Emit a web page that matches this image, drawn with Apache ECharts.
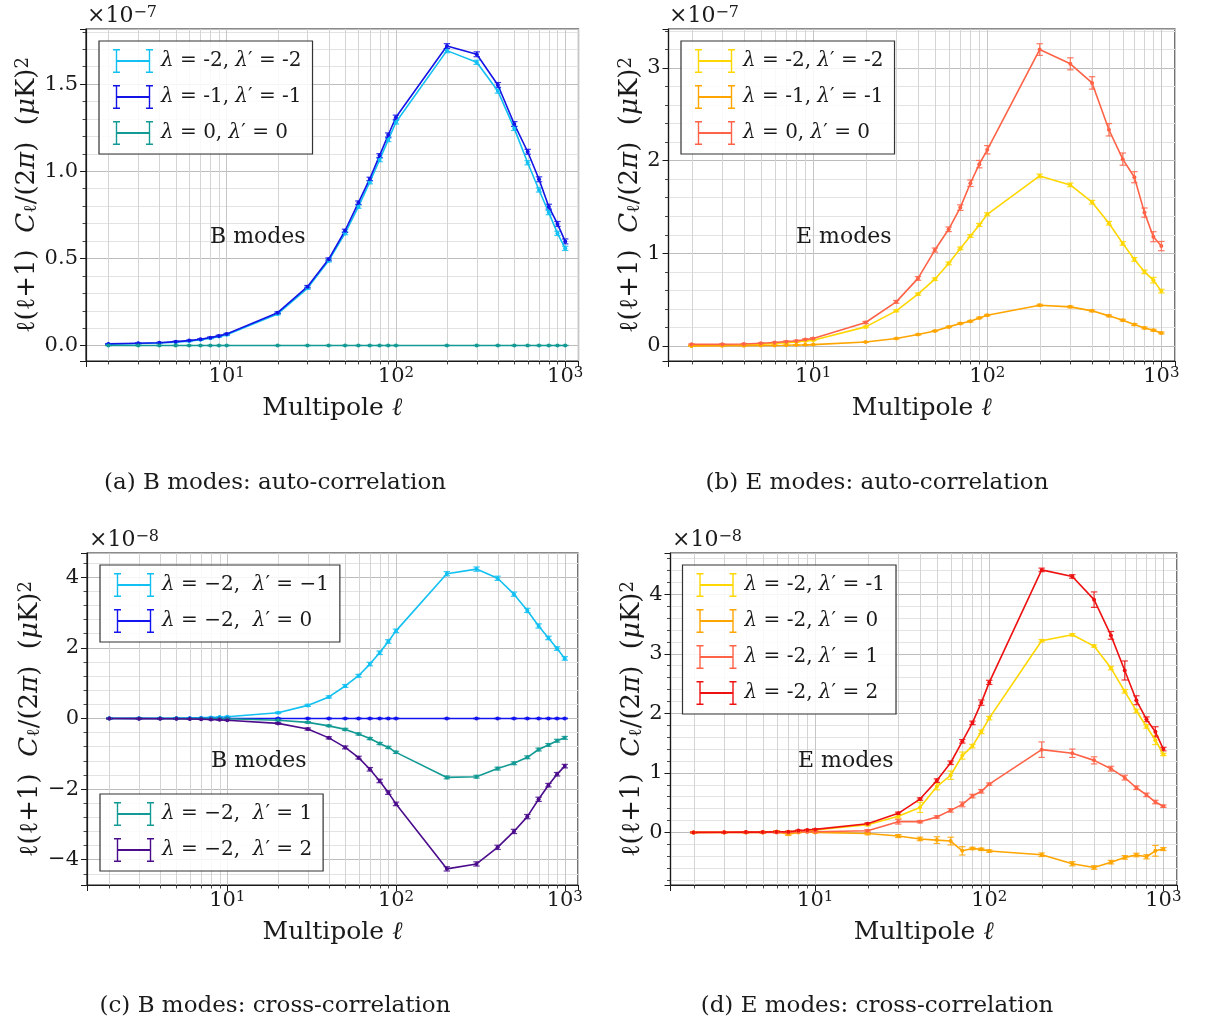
<!DOCTYPE html>
<html><head><meta charset="utf-8">
<script src="https://cdn.jsdelivr.net/npm/echarts@6/dist/echarts.min.js"></script>
<style>html,body{margin:0;padding:0;background:#fff}#c{width:1205px;height:1026px}</style>
</head><body><div id="c"></div>
<script>
// ---------------- DATA ----------------
const ell = [2,3,4,5,6,7,8,9,10,20,30,40,50,60,70,80,90,100,200,300,400,500,600,700,800,900,1000];
const xMinorTicks = [2,3,4,5,6,7,8,9,20,30,40,50,60,70,80,90,200,300,400,500,600,700,800,900];

// (a) B modes auto-correlation  (x 1e-7)
const aLabels = ['λ = -2, λ′ = -2', 'λ = -1, λ′ = -1', 'λ = 0, λ′ = 0'];
const aM2  = [0.008,0.012,0.015,0.020,0.026,0.034,0.043,0.052,0.062,0.182,0.329,0.487,0.644,0.797,0.937,1.065,1.180,1.281,1.692,1.625,1.460,1.246,1.049,0.893,0.763,0.644,0.558];
const aM2e = [0.002,0.002,0.002,0.002,0.003,0.003,0.003,0.003,0.004,0.005,0.006,0.007,0.008,0.009,0.009,0.010,0.010,0.010,0.012,0.012,0.012,0.012,0.012,0.012,0.012,0.012,0.012];
const aM1  = [0.010,0.014,0.017,0.023,0.029,0.037,0.046,0.056,0.067,0.189,0.338,0.495,0.659,0.820,0.956,1.090,1.208,1.310,1.718,1.671,1.495,1.271,1.112,0.954,0.797,0.698,0.598];
const aM1e = [0.002,0.002,0.002,0.003,0.003,0.003,0.004,0.004,0.004,0.005,0.007,0.008,0.009,0.010,0.010,0.011,0.012,0.012,0.014,0.014,0.014,0.014,0.014,0.014,0.014,0.014,0.014];
const a0   = [0.001,0.001,0.001,0.001,0.001,0.001,0.001,0.001,0.001,0.001,0.001,0.001,0.001,0.001,0.001,0.001,0.001,0.001,0.001,0.001,0.001,0.001,0.001,0.001,0.001,0.001,0.001];
const a0e  = [0.001,0.001,0.001,0.001,0.001,0.001,0.001,0.001,0.001,0.001,0.001,0.001,0.001,0.001,0.001,0.001,0.001,0.001,0.001,0.001,0.001,0.001,0.001,0.001,0.001,0.001,0.001];

// (b) E modes auto-correlation  (x 1e-7)
const bLabels = ['λ = -2, λ′ = -2', 'λ = -1, λ′ = -1', 'λ = 0, λ′ = 0'];
const bM2  = [0.003,0.008,0.013,0.020,0.027,0.035,0.044,0.054,0.062,0.206,0.379,0.559,0.721,0.891,1.053,1.187,1.306,1.421,1.835,1.738,1.551,1.324,1.107,0.934,0.800,0.710,0.592];
const bM2e = [0.003,0.003,0.003,0.003,0.004,0.004,0.004,0.004,0.005,0.008,0.010,0.012,0.014,0.015,0.015,0.015,0.016,0.016,0.020,0.020,0.020,0.020,0.020,0.020,0.020,0.030,0.020];
const bM1  = [0.001,0.002,0.003,0.005,0.006,0.008,0.010,0.012,0.015,0.043,0.080,0.123,0.162,0.206,0.242,0.267,0.303,0.332,0.440,0.422,0.379,0.325,0.278,0.231,0.195,0.170,0.141];
const bM1e = [0.002,0.002,0.002,0.002,0.002,0.002,0.003,0.003,0.003,0.004,0.005,0.006,0.006,0.007,0.007,0.008,0.008,0.008,0.010,0.010,0.010,0.010,0.010,0.010,0.010,0.010,0.010];
const b0   = [0.018,0.018,0.022,0.029,0.037,0.047,0.054,0.069,0.080,0.253,0.476,0.729,1.035,1.259,1.493,1.756,1.962,2.117,3.198,3.044,2.838,2.333,2.016,1.821,1.439,1.179,1.078];
const b0e  = [0.005,0.005,0.005,0.006,0.006,0.007,0.008,0.008,0.010,0.012,0.015,0.020,0.022,0.025,0.030,0.035,0.040,0.045,0.063,0.065,0.067,0.067,0.066,0.060,0.050,0.054,0.050];

// (c) B modes cross-correlation  (x 1e-8)
const cLabels = ['λ = −2,  λ′ = −1', 'λ = −2,  λ′ = 0', 'λ = −2,  λ′ = 1', 'λ = −2,  λ′ = 2'];
const cM1  = [0.005,0.005,0.005,0.010,0.015,0.020,0.030,0.040,0.050,0.160,0.370,0.610,0.920,1.210,1.540,1.860,2.180,2.480,4.100,4.230,3.970,3.520,3.060,2.620,2.280,1.980,1.700];
const cM1e = [0.01,0.01,0.01,0.01,0.01,0.01,0.01,0.01,0.01,0.02,0.03,0.03,0.04,0.04,0.05,0.05,0.05,0.05,0.06,0.06,0.06,0.06,0.06,0.06,0.05,0.05,0.05];
const c0   = [0,0,0,0,0,0,0,0,0,0,0,0,0,0,0,0,0,0,0,0,0,0,0,0,0,0,0];
const c0e  = [0.01,0.01,0.01,0.01,0.01,0.01,0.01,0.01,0.01,0.01,0.01,0.01,0.01,0.01,0.01,0.01,0.01,0.01,0.01,0.01,0.01,0.01,0.01,0.01,0.01,0.01,0.01];
const c1   = [-0.002,-0.002,-0.003,-0.004,-0.005,-0.006,-0.007,-0.008,-0.010,-0.050,-0.110,-0.210,-0.310,-0.440,-0.570,-0.710,-0.820,-0.960,-1.670,-1.650,-1.420,-1.270,-1.100,-0.880,-0.750,-0.630,-0.550];
const c1e  = [0.01,0.01,0.01,0.01,0.01,0.01,0.01,0.01,0.01,0.02,0.02,0.02,0.03,0.03,0.03,0.03,0.03,0.03,0.04,0.04,0.04,0.04,0.04,0.04,0.04,0.04,0.04];
const c2   = [-0.003,-0.005,-0.007,-0.010,-0.015,-0.020,-0.030,-0.040,-0.050,-0.140,-0.300,-0.550,-0.820,-1.110,-1.440,-1.770,-2.100,-2.420,-4.260,-4.120,-3.650,-3.200,-2.780,-2.290,-1.890,-1.580,-1.350];
const c2e  = [0.01,0.01,0.01,0.01,0.01,0.01,0.01,0.01,0.01,0.02,0.03,0.03,0.04,0.04,0.05,0.05,0.05,0.05,0.06,0.06,0.06,0.06,0.06,0.06,0.05,0.05,0.05];

// (d) E modes cross-correlation  (x 1e-8)
const dLabels = ['λ = -2, λ′ = -1', 'λ = -2, λ′ = 0', 'λ = -2, λ′ = 1', 'λ = -2, λ′ = 2'];
const dM1  = [0.000,0.002,0.003,0.005,0.010,0.010,0.020,0.030,0.040,0.130,0.270,0.420,0.770,0.960,1.290,1.450,1.690,1.920,3.220,3.320,3.130,2.760,2.370,2.040,1.780,1.550,1.310];
const dM1e = [0.01,0.01,0.01,0.01,0.01,0.01,0.01,0.01,0.01,0.02,0.03,0.085,0.055,0.07,0.06,0.03,0.03,0.03,0.02,0.02,0.02,0.03,0.03,0.03,0.03,0.075,0.02];
const d0   = [0.000,0.000,0.000,0.000,0.010,-0.030,0.000,0.010,0.000,-0.020,-0.062,-0.110,-0.130,-0.146,-0.310,-0.270,-0.285,-0.314,-0.375,-0.527,-0.590,-0.500,-0.420,-0.380,-0.410,-0.310,-0.280];
const d0e  = [0.01,0.01,0.01,0.01,0.02,0.02,0.01,0.01,0.01,0.02,0.025,0.03,0.056,0.065,0.07,0.02,0.02,0.02,0.03,0.035,0.03,0.03,0.03,0.03,0.035,0.09,0.025];
const d1   = [0.000,0.000,0.000,0.000,0.000,0.000,0.010,0.010,0.010,0.027,0.180,0.180,0.260,0.370,0.470,0.610,0.690,0.810,1.390,1.330,1.210,1.070,0.920,0.750,0.630,0.510,0.440];
const d1e  = [0.01,0.01,0.01,0.01,0.01,0.01,0.01,0.01,0.01,0.02,0.04,0.02,0.02,0.03,0.04,0.03,0.03,0.02,0.13,0.07,0.06,0.04,0.04,0.03,0.03,0.03,0.02];
const d2   = [0.000,0.002,0.005,0.005,0.010,0.010,0.030,0.040,0.050,0.145,0.320,0.560,0.870,1.170,1.530,1.840,2.180,2.520,4.410,4.300,3.910,3.310,2.720,2.220,1.900,1.690,1.400];
const d2e  = [0.01,0.01,0.01,0.01,0.01,0.01,0.01,0.01,0.01,0.015,0.02,0.02,0.03,0.03,0.03,0.03,0.045,0.035,0.03,0.03,0.13,0.065,0.16,0.075,0.04,0.085,0.03];

// ---------------- STYLE / LAYOUT ----------------
const FONT = '"DejaVu Serif", "Liberation Serif", serif';
const INK = '#1a1a1a';
const XMIN = 1.475, XMAX = 1198;
const ERR_ICON = 'path://M0,0H7V1.4H4.2V22.6H7V24H0V22.6H2.8V1.4H0Z M33,0H40V1.4H37.2V22.6H40V24H33V22.6H35.8V1.4H33Z M3.5,11H36.5V13H3.5Z';

const panels = [
  {rect:{left:86, top:29, width:492.5, height:332}, ymin:-0.088, ymax:1.816, split:4, step:0.5, dec:1, nameGap:44},
  {rect:{left:668.5, top:29, width:506.5, height:332}, ymin:-0.162, ymax:3.42, split:4, step:1, dec:0, nameGap:24},
  {rect:{left:87, top:553, width:491, height:332}, ymin:-4.717, ymax:4.686, split:5, step:2, dec:0, nameGap:44},
  {rect:{left:670.5, top:553, width:506.5, height:332}, ymin:-0.884, ymax:4.694, split:5, step:1, dec:0, nameGap:25}
];

function isMult(v, s) { return Math.abs(v / s - Math.round(v / s)) < 1e-6; }

const grids = [], xAxes = [], yAxes = [], series = [], legends = [];
const labelMap = {};

panels.forEach((p, i) => {
  grids.push(Object.assign({show:true, borderColor:INK, borderWidth:1.2, backgroundColor:'transparent'}, p.rect));
  xAxes.push({
    type:'log', logBase:10, gridIndex:i, min:XMIN, max:XMAX,
    axisLine:{onZero:false, lineStyle:{color:INK, width:1.2}},
    axisTick:{show:true, inside:false, length:6, lineStyle:{color:INK, width:1}},
    splitLine:{show:true, lineStyle:{color:'#c6c6c6', width:1}},
    axisLabel:{
      margin:5, color:INK, fontFamily:FONT, fontSize:21,
      formatter:(v) => { const e = Math.log10(v), r = Math.round(e); return Math.abs(e - r) < 1e-6 ? '10{s|' + r + '}' : ''; },
      rich:{s:{fontSize:15, fontFamily:FONT, color:INK, verticalAlign:'top'}}
    },
    name:'Multipole {i|ℓ}', nameLocation:'middle', nameGap:35,
    nameTextStyle:{fontFamily:FONT, fontSize:25, color:INK, rich:{i:{fontFamily:FONT, fontSize:25, color:INK, fontStyle:'italic'}}}
  });
  yAxes.push({
    type:'value', gridIndex:i, min:p.ymin, max:p.ymax, splitNumber:p.split,
    axisLine:{show:true, lineStyle:{color:INK, width:1.2}},
    axisTick:{show:true, inside:false, length:6, lineStyle:{color:INK, width:1}},
    minorTick:{show:true, splitNumber:5, length:3.5, lineStyle:{color:INK, width:0.8}},
    splitLine:{show:true, lineStyle:{color:'#bcbcbc', width:1}},
    minorSplitLine:{show:true, lineStyle:{color:'#e3e3e3', width:1}},
    axisLabel:{
      margin:8, color:INK, fontFamily:FONT, fontSize:21,
      formatter:(v) => {
        if (!isMult(v, p.step)) return '';
        const r = Math.round(v / p.step) * p.step;
        if (Math.abs(r) < 1e-9) return p.dec ? (0).toFixed(p.dec) : '0';
        const s = Math.abs(r).toFixed(p.dec);
        return r < 0 ? '−' + s : s;
      }
    },
    name:'ℓ(ℓ+1)  {i|C}{sub|ℓ}/(2{i|π})  ({i|μ}K){sup|2}', nameLocation:'middle', nameGap:p.nameGap, nameRotate:90,
    nameTextStyle:{fontFamily:FONT, fontSize:26, color:INK, rich:{
      i:{fontFamily:FONT, fontSize:26, color:INK, fontStyle:'italic'},
      sub:{fontFamily:FONT, fontSize:18, color:INK, verticalAlign:'bottom'},
      sup:{fontFamily:FONT, fontSize:18, color:INK, verticalAlign:'top'}
    }}
  });
  // minor log grid lines + minor ticks
  series.push({
    type:'custom', name:'minor' + i, xAxisIndex:i, yAxisIndex:i, silent:true, z:1,
    data: xMinorTicks.map(v => [v, 0]), encode:{x:0, y:1},
    renderItem:(params, api) => {
      const x = Math.round(api.coord([api.value(0), 0])[0]) + 0.5;
      const cs = params.coordSys;
      return {type:'group', children:[
        {type:'line', shape:{x1:x, y1:cs.y, x2:x, y2:cs.y + cs.height}, style:{stroke:'#d4d4d4', lineWidth:1}},
        {type:'line', shape:{x1:x, y1:cs.y + cs.height, x2:x, y2:cs.y + cs.height + 3.5}, style:{stroke:INK, lineWidth:0.8}}
      ]};
    }
  });
});

function errRender(color) {
  return (params, api) => {
    const x = api.value(0);
    const lo = api.coord([x, api.value(1)]);
    const hi = api.coord([x, api.value(2)]);
    const w = 3.2;
    const st = {stroke:color, lineWidth:1.2, opacity:0.85};
    return {type:'group', children:[
      {type:'line', shape:{x1:lo[0], y1:lo[1], x2:hi[0], y2:hi[1]}, style:st},
      {type:'line', shape:{x1:lo[0] - w, y1:lo[1], x2:lo[0] + w, y2:lo[1]}, style:st},
      {type:'line', shape:{x1:hi[0] - w, y1:hi[1], x2:hi[0] + w, y2:hi[1]}, style:st}
    ]};
  };
}

function addSeries(panel, id, label, color, vals, errs) {
  labelMap[id] = label;
  series.push({
    type:'custom', name:id + '#err', xAxisIndex:panel, yAxisIndex:panel, silent:true, z:3,
    data: ell.map((l, k) => [l, vals[k] - errs[k], vals[k] + errs[k]]), encode:{x:0, y:[1, 2]},
    renderItem: errRender(color)
  });
  series.push({
    type:'line', name:id, xAxisIndex:panel, yAxisIndex:panel, z:4,
    data: ell.map((l, k) => [l, vals[k]]),
    symbol:'circle', symbolSize:4, showSymbol:true,
    itemStyle:{color:color}, lineStyle:{color:color, width:1.6}
  });
}

addSeries(0, 'a0', aLabels[0], '#12c0f2', aM2, aM2e);
addSeries(0, 'a1', aLabels[1], '#1414e6', aM1, aM1e);
addSeries(0, 'a2', aLabels[2], '#139a94', a0, a0e);
addSeries(1, 'b0', bLabels[0], '#ffd700', bM2, bM2e);
addSeries(1, 'b1', bLabels[1], '#ffa500', bM1, bM1e);
addSeries(1, 'b2', bLabels[2], '#ff6347', b0, b0e);
addSeries(2, 'c0', cLabels[0], '#12c0f2', cM1, cM1e);
addSeries(2, 'c1', cLabels[1], '#1414f0', c0, c0e);
addSeries(2, 'c2', cLabels[2], '#139a94', c1, c1e);
addSeries(2, 'c3', cLabels[3], '#4b0c8c', c2, c2e);
addSeries(3, 'd0', dLabels[0], '#ffd700', dM1, dM1e);
addSeries(3, 'd1', dLabels[1], '#ffa500', d0, d0e);
addSeries(3, 'd2', dLabels[2], '#ff6347', d1, d1e);
addSeries(3, 'd3', dLabels[3], '#ee1111', d2, d2e);

function mkLegend(names, left, top) {
  return {
    data:names, left:left, top:top, orient:'vertical', selectedMode:false,
    icon:ERR_ICON, itemWidth:40, itemHeight:24, itemGap:12, padding:[8, 11, 9, 14],
    backgroundColor:'rgba(255,255,255,0.85)', borderColor:'#333', borderWidth:1.2, borderRadius:0,
    itemStyle:{borderWidth:0},
    formatter:(n) => labelMap[n].replace(/λ/g, '{i|λ}'),
    textStyle:{fontFamily:FONT, fontSize:20, color:INK, padding:[0, 0, 0, 3],
      rich:{i:{fontFamily:FONT, fontSize:20, color:INK, fontStyle:'italic'}}}
  };
}
legends.push(mkLegend(['a0','a1','a2'], 99, 41));
legends.push(mkLegend(['b0','b1','b2'], 681, 41));
legends.push(mkLegend(['c0','c1'], 100, 565));
legends.push(mkLegend(['c2','c3'], 100, 794));
legends.push(mkLegend(['d0','d1','d2','d3'], 682.5, 565));

function offsetText(x, y, exp) {
  return {type:'text', x:x, y:y, z:10, style:{text:'×10{s|' + exp + '}', fill:INK, font:'22px ' + FONT,
    align:'left', verticalAlign:'middle', rich:{s:{fontSize:16, fontFamily:FONT, fill:INK, verticalAlign:'top'}}}};
}
function plainText(x, y, txt, size, align) {
  return {type:'text', x:x, y:y, z:10, style:{text:txt, fill:INK, font:size + 'px ' + FONT, align:align, verticalAlign:'middle'}};
}

const graphics = [
  offsetText(87, 16, '−7'), offsetText(669, 16, '−7'),
  offsetText(89, 540, '−8'), offsetText(672, 540, '−8'),
  plainText(210, 237, 'B modes', 22, 'left'),
  plainText(796, 237, 'E modes', 22, 'left'),
  plainText(211, 761, 'B modes', 22, 'left'),
  plainText(798, 761, 'E modes', 22, 'left'),
  plainText(275, 483, '(a) B modes: auto-correlation', 23, 'center'),
  plainText(877, 483, '(b) E modes: auto-correlation', 23, 'center'),
  plainText(275, 1006, '(c) B modes: cross-correlation', 23, 'center'),
  plainText(877, 1006, '(d) E modes: cross-correlation', 23, 'center')
];

const chart = echarts.init(document.getElementById('c'), null, {renderer:'canvas'});
chart.setOption({
  animation:false,
  backgroundColor:'#ffffff',
  grid:grids, xAxis:xAxes, yAxis:yAxes, legend:legends, series:series,
  graphic:graphics
});
</script>
</body></html>
